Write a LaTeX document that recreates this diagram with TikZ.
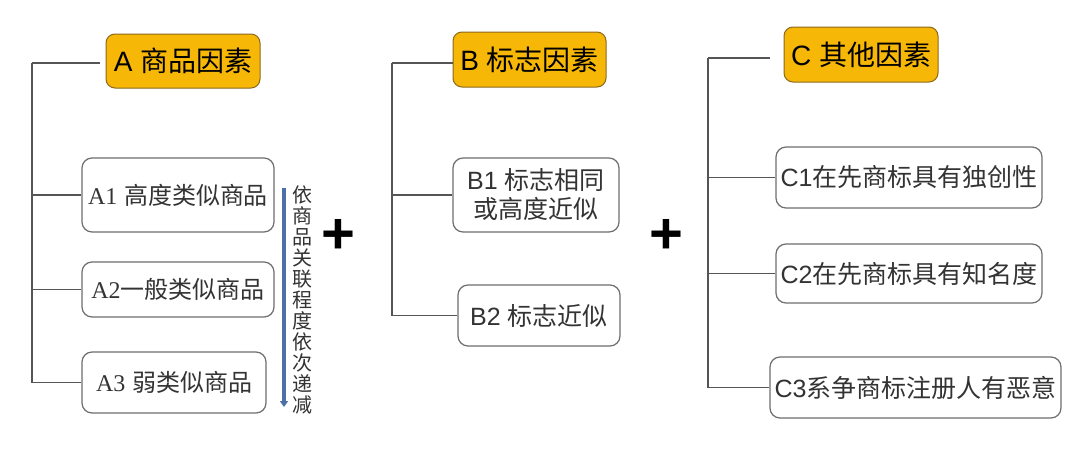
\documentclass[tikz,border=0pt]{standalone}
\usepackage{fontspec}
\setmainfont{Liberation Sans}
\newfontfamily\cjk{Noto Sans CJK SC}
\newfontfamily\serifl{Liberation Serif}
\usetikzlibrary{arrows.meta}
\definecolor{hdrfill}{HTML}{F6B707}
\definecolor{hdrdraw}{HTML}{8C6A1C}
\definecolor{boxdraw}{HTML}{6E6E6E}
\definecolor{linec}{HTML}{555555}
\definecolor{arrowc}{HTML}{4E70A8}
\definecolor{txtc}{HTML}{333333}
\tikzset{
  hdr/.style={draw=hdrdraw, fill=hdrfill, line width=1pt, rounded corners=9pt, inner sep=0pt,
    font=\fontsize{28}{32}\selectfont, text=black},
  itembox/.style={draw=boxdraw, fill=white, line width=1.2pt, rounded corners=10pt, inner sep=1pt,
    align=center, text=txtc},
  conn/.style={draw=linec, line width=1.2pt},
  decr/.style={draw=arrowc, line width=4pt, -{Triangle[width=8pt,length=6pt]}},
  plus/.style={font=\fontsize{58}{60}\selectfont\bfseries, inner sep=0pt}
}
\begin{document}
\begin{tikzpicture}[x=1pt,y=-1pt]
\fill[white] (0,0) rectangle (1080,448);
\useasboundingbox (0,0) rectangle (1080,448);

% headers
\node[hdr, minimum width=154pt, minimum height=54pt] (A) at (183,61) {A {\cjk 商品因素}};
\node[hdr, minimum width=153pt, minimum height=55pt] (B) at (529.5,59.5) {B {\cjk 标志因素}};
\node[hdr, minimum width=154pt, minimum height=55pt] (C) at (861,54.5) {C {\cjk 其他因素}};

% A items
\node[itembox, minimum width=192pt, minimum height=74pt, font=\fontsize{24}{28}\selectfont] (A1) at (178,195) {{\serifl A1} {\cjk 高度类似商品}};
\node[itembox, minimum width=192pt, minimum height=55pt, font=\fontsize{24}{28}\selectfont] (A2) at (178,289.5) {{\serifl A2}{\cjk 一般类似商品}};
\node[itembox, minimum width=184pt, minimum height=61pt, font=\fontsize{24}{28}\selectfont] (A3) at (174,382.5) {{\serifl A3} {\cjk 弱类似商品}};

% B items
\node[itembox, minimum width=166pt, minimum height=74pt, font=\fontsize{25}{29}\selectfont] (B1) at (536,195) {B1 {\cjk 标志相同}\\{\cjk 或高度近似}};
\node[itembox, minimum width=162pt, minimum height=61pt, font=\fontsize{25}{29}\selectfont] (B2) at (539,315.5) {B2 {\cjk 标志近似}};

% C items
\node[itembox, minimum width=266pt, minimum height=61pt, font=\fontsize{25}{29}\selectfont] (C1) at (909,177.5) {C1{\cjk 在先商标具有独创性}};
\node[itembox, minimum width=266pt, minimum height=59pt, font=\fontsize{25}{29}\selectfont] (C2) at (909,273.5) {C2{\cjk 在先商标具有知名度}};
\node[itembox, minimum width=291pt, minimum height=61pt, font=\fontsize{25}{29}\selectfont] (C3) at (915.5,387.5) {C3{\cjk 系争商标注册人有恶意}};

% trunks
\coordinate (ta) at (32,63);
\coordinate (tb) at (392,63);
\coordinate (tc) at (708,58);

\draw[conn, shorten >=6pt] (ta) -- (ta -| A.west);
\draw[conn] (ta) -- (ta |- A3.west) -- (A3.west);
\draw[conn] (ta |- A1.west) -- (A1.west);
\draw[conn] (ta |- A2.west) -- (A2.west);

\draw[conn] (tb) -- (tb -| B.west);
\draw[conn] (tb) -- (tb |- B2.west) -- (B2.west);
\draw[conn] (tb |- B1.west) -- (B1.west);

\draw[conn, shorten >=14pt] (tc) -- (tc -| C.west);
\draw[conn] (tc) -- (tc |- C3.west) -- (C3.west);
\draw[conn] (tc |- C1.west) -- (C1.west);
\draw[conn] (tc |- C2.west) -- (C2.west);

% decreasing arrow and vertical text
\coordinate (arrTop) at (284,188);
\coordinate (arrBot) at (284,407);
\draw[decr] (arrTop) -- (arrBot);
\node[align=center, inner sep=0pt, text=txtc, font=\cjk\fontsize{20}{21}\selectfont] (vt) at (302,300)
  {依\\商\\品\\关\\联\\程\\度\\依\\次\\递\\减};

% plus signs
\node[plus] (p1) at (338,236) {+};
\node[plus] (p2) at (666,236) {+};
\end{tikzpicture}
\end{document}
